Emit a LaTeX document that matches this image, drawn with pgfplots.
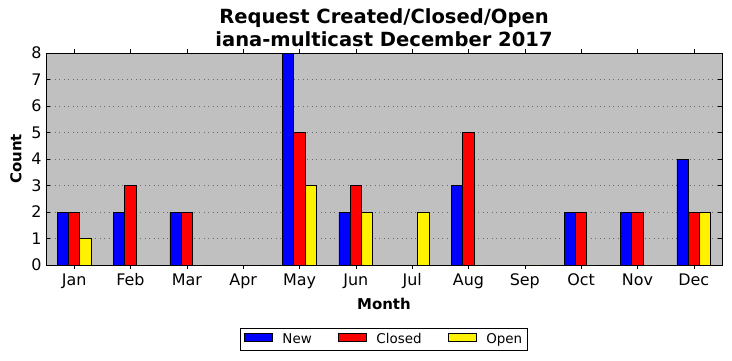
\documentclass[border=0pt]{standalone}
\usepackage{fontspec}
\setmainfont{DejaVu Sans}
\usepackage{pgfplots}
\pgfplotsset{compat=1.18}
\usetikzlibrary{calc}
\definecolor{bg}{HTML}{C0C0C0}
\begin{document}
\begin{tikzpicture}
\begin{axis}[
  name=ax,
  scale only axis,
  width=676bp, height=212bp,
  xmin=-0.5, xmax=11.5, ymin=0, ymax=8,
  xtick={0,...,11},
  xticklabels={Jan,Feb,Mar,Apr,May,Jun,Jul,Aug,Sep,Oct,Nov,Dec},
  ytick={0,...,8},
  tick align=inside,
  major tick length=4bp,
  tick style={black, line width=0.6pt},
  axis line style={black, line width=0.8pt},
  axis background/.style={fill=bg},
  ymajorgrids,
  grid style={gray!85!black, line width=0.5pt, dash pattern=on 1bp off 3.5bp},
  tick label style={font=\fontsize{16}{18}\selectfont},
  /pgf/number format/assume math mode=true,
  xticklabel style={yshift=-1bp},
  yticklabel style={xshift=-1bp},
  xlabel={\bfseries Month},
  ylabel={\bfseries Count},
  label style={font=\fontsize{15}{18}\selectfont},
  xlabel style={yshift=-2bp},
  ylabel style={yshift=3bp},
  title style={font=\fontsize{19.6}{23}\selectfont\bfseries, align=center, yshift=-3bp},
  title={Request Created/Closed/Open\\iana-multicast December 2017},
  ybar, bar width=0.2,
  legend style={at={(0.5,-0.35)}, anchor=center, legend columns=3,
    font=\fontsize{13.5}{15}\selectfont, draw=black, line width=0.8pt,
    /tikz/every even column/.append style={column sep=24bp},
    inner xsep=3bp, inner ysep=3bp},
  legend image code/.code={\draw[#1, line width=0.6pt] (0bp,-2.5bp) rectangle (28bp,5.5bp); \path (36bp,1.5bp);},
]
\addplot[fill=blue, draw=black, line width=0.8pt, bar shift=-0.2] coordinates {(0,2)(1,2)(2,2)(3,0)(4,8)(5,2)(6,0)(7,3)(8,0)(9,2)(10,2)(11,4)};
\addplot[fill=red, draw=black, line width=0.8pt, bar shift=0] coordinates {(0,2)(1,3)(2,2)(3,0)(4,5)(5,3)(6,0)(7,5)(8,0)(9,2)(10,2)(11,2)};
\addplot[fill=yellow, draw=black, line width=0.8pt, bar shift=0.2] coordinates {(0,1)(1,0)(2,0)(3,0)(4,3)(5,2)(6,2)(7,0)(8,0)(9,0)(10,0)(11,2)};
\legend{New,Closed,Open}
\end{axis}
\pgfresetboundingbox
\path[use as bounding box] ($(ax.south west)+(-46bp,-96bp)$) rectangle ($(ax.north east)+(10bp,53bp)$);
\end{tikzpicture}
\end{document}
